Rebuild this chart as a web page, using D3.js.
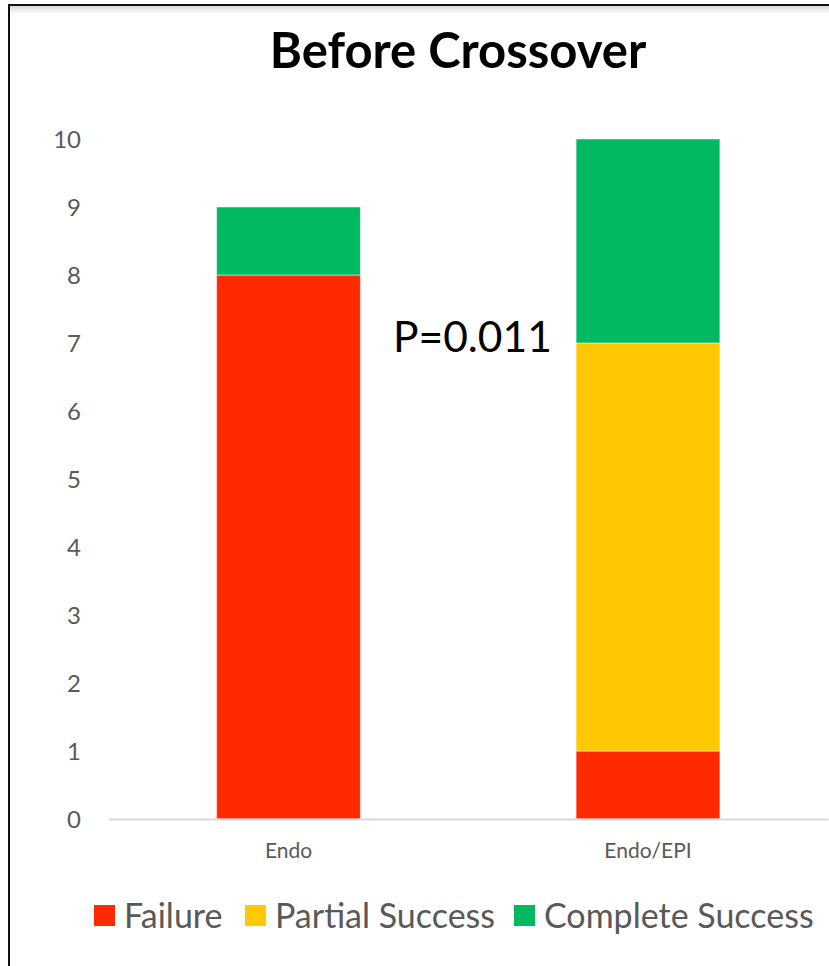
<!DOCTYPE html>
<html>
<head>
<meta charset="utf-8">
<script src="https://cdn.jsdelivr.net/npm/d3@7/dist/d3.min.js"></script>
<style>
  html, body { margin: 0; padding: 0; background: #fff; }
  svg { display: block; }
</style>
</head>
<body>
<svg id="chart" width="829" height="966"></svg>
<script>
// Outcome counts per approach, stacked bottom to top
const categories = ["Endo", "Endo/EPI"];
const seriesNames = ["Failure", "Partial Success", "Complete Success"];
const failure = [8, 1];
const partialSuccess = [0, 6];
const completeSuccess = [1, 3];
const yTicks = [0, 1, 2, 3, 4, 5, 6, 7, 8, 9, 10];
const colors = ["#ff2a00", "#ffc800", "#00b960"];
const titleText = "Before Crossover";
const pValueText = "P=0.011";

const svg = d3.select("#chart");
const W = 829, H = 966;
const font = "Lato, 'Open Sans', sans-serif";

// frame: top and left edges with a soft shadow under the top edge
const defs = svg.append("defs");
const grad = defs.append("linearGradient").attr("id", "topShade")
  .attr("x1", 0).attr("y1", 0).attr("x2", 0).attr("y2", 1);
grad.append("stop").attr("offset", 0).attr("stop-color", "#d8d8d8");
grad.append("stop").attr("offset", 1).attr("stop-color", "#ffffff");
svg.append("rect").attr("x", 9).attr("y", 6).attr("width", W - 9).attr("height", 8)
  .attr("fill", "url(#topShade)");
svg.append("line").attr("x1", 8).attr("x2", W).attr("y1", 5).attr("y2", 5)
  .attr("stroke", "#111").attr("stroke-width", 2);
svg.append("line").attr("x1", 9).attr("x2", 9).attr("y1", 4).attr("y2", H)
  .attr("stroke", "#111").attr("stroke-width", 2);

const x = d3.scaleBand().domain(categories).range([108.75, 827.75]).paddingInner(0.6).paddingOuter(0.3);
const y = d3.scaleLinear().domain([0, 10]).range([819, 139]);

const rows = categories.map((c, i) => ({
  cat: c, "Failure": failure[i], "Partial Success": partialSuccess[i], "Complete Success": completeSuccess[i]
}));
const stacked = d3.stack().keys(seriesNames)(rows);

// y axis tick labels (no axis line, no gridlines)
const yAxis = d3.axisLeft(y).tickValues(yTicks).tickSize(0).tickPadding(0);
const gy = svg.append("g").attr("transform", "translate(81,0)").call(yAxis);
gy.select(".domain").remove();
gy.selectAll("text").attr("font-family", font).attr("font-size", 24)
  .attr("fill", "#595959").attr("dy", "0.35em");

// bars
svg.append("g").selectAll("g").data(stacked).join("g")
  .attr("fill", (d, i) => colors[i])
  .selectAll("rect").data(d => d.filter(s => s[1] - s[0] > 0)).join("rect")
  .attr("x", d => x(d.data.cat))
  .attr("width", x.bandwidth())
  .attr("y", d => y(d[1]))
  .attr("height", d => y(d[0]) - y(d[1]))
  .attr("stroke", "rgba(255,255,255,0.5)").attr("stroke-width", 1);

// category axis
const xAxis = d3.axisBottom(x).tickSize(0).tickPadding(0);
const gx = svg.append("g").attr("transform", "translate(0,819)").call(xAxis);
gx.select(".domain").attr("stroke", "#d9d9d9").attr("stroke-width", 2);
gx.selectAll("text").attr("font-family", font).attr("font-size", 21)
  .attr("fill", "#595959").attr("y", 24).attr("dy", "0.71em");

// title
svg.append("text").attr("x", 458).attr("y", 68).attr("text-anchor", "middle")
  .attr("font-family", font).attr("font-weight", 700).attr("font-size", 49)
  .attr("fill", "#000").text(titleText);

// significance annotation
svg.append("text").attr("x", 393).attr("y", 352)
  .attr("font-family", font).attr("font-size", 42.5).attr("fill", "#000").text(pValueText);

// legend
const legendX = [94, 245, 514];
const lg = svg.append("g").selectAll("g").data(seriesNames).join("g")
  .attr("transform", (d, i) => `translate(${legendX[i]},905)`);
lg.append("rect").attr("width", 21).attr("height", 21).attr("fill", (d, i) => colors[i]);
lg.append("text").attr("x", 30).attr("y", 23)
  .attr("font-family", font).attr("font-size", 34).attr("fill", "#595959").text(d => d);
</script>
</body>
</html>
